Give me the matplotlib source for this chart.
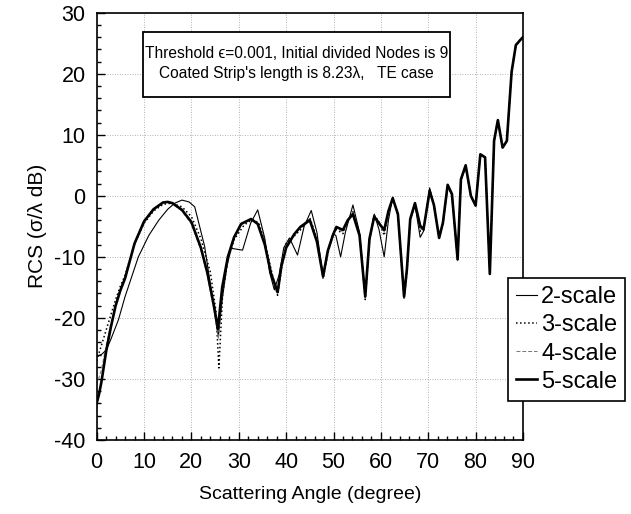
import matplotlib
matplotlib.use("Agg")
import matplotlib.pyplot as plt
from matplotlib.ticker import MultipleLocator
from matplotlib.patches import Rectangle

plt.rcParams['font.family'] = ['Liberation Sans', 'DejaVu Sans']
plt.rcParams['axes.unicode_minus'] = False

# 5-scale (thick solid)
x5 = [0, 0.5, 1, 2, 3, 4, 5, 6, 8, 10, 12, 14, 15, 16, 18, 20, 22, 23.4, 24.8, 25.6,
      26.5, 27.7, 29, 30.5, 32.6, 34, 35.5, 36.8, 38.2, 39, 40, 41.7, 43, 45, 46.5,
      47.8, 48.8, 49.9, 50.6, 52, 53, 54.1, 55.5, 56.7, 57.6, 58.6, 59.6, 60.7, 61.6,
      62.5, 63.6, 64.9, 65.5, 66.2, 67.2, 68.3, 69, 70.3, 71.2, 72.3, 73.1, 74.1, 75,
      76.2, 76.9, 77.9, 79, 80, 81, 82, 83, 83.9, 84.7, 85.7, 86.6, 87.6, 88.5, 89.4, 90]
y5 = [-34, -32.5, -30.5, -25.5, -21.5, -18, -15.5, -13.5, -7.8, -4.2, -2.2, -1.1, -1.0,
      -1.2, -2.3, -4.3, -8.5, -12.7, -18.2, -21.8,
      -15, -10, -6.8, -4.6, -3.8, -4.6, -8, -12.7, -15.8, -11.5, -8.5, -6.3, -5.1, -4.0,
      -7.5, -13.2, -9, -6.4, -5.1, -5.6, -4, -3.0, -6.5, -16.5, -7, -3.4, -4.5, -5.6,
      -2.5, -0.4, -3, -16.5, -12, -3.8, -1.2, -4.9, -5.5, 0.8, -1.5, -6.9, -4.4, 1.8,
      0.3, -10.4, 2.7, 5.0, 0, -1.6, 6.8, 6.3, -12.8, 9.0, 12.4, 7.9, 9.0, 20.3, 24.7,
      25.5, 26]

# 4-scale (thin dashed grey)
x4 = [0, 1, 2, 3, 4, 5, 6, 8, 10, 12, 14, 15, 16, 18, 20, 22, 23.4, 24.8, 25.7,
      26.5, 27.7, 29, 30.5, 32.6, 34, 35.5, 36.8, 38.2, 39, 40, 41.7, 43, 45, 46.5,
      47.8, 48.8, 49.9, 50.6, 52, 53, 54.1, 55.5, 56.7, 57.6, 58.6, 59.6, 60.7, 61.6,
      62.5, 63.6, 64.9, 65.5, 66.2, 67.2, 68.3, 69, 70.3, 71.2, 72.3, 73.1, 74.1, 75,
      76.2, 76.9, 77.9, 79, 80, 81, 82, 83, 83.9, 84.7, 85.7, 86.6, 87.6, 88.5, 89.4, 90]
y4 = [-31, -28.5, -24.5, -21, -17.8, -15.3, -13.3, -7.7, -4.1, -2.1, -1.1, -1.0,
      -1.3, -2.5, -4.6, -8.9, -13.2, -19, -23.5,
      -15.5, -10.2, -6.9, -4.7, -3.8, -4.5, -7.8, -12.5, -16, -11.8, -8.3, -6.4, -5.0,
      -3.8, -7.3, -13.4, -9.2, -6.3, -5.3, -5.9, -4.1, -2.8, -6.4, -16.8, -7.1, -3.3,
      -4.3, -6.0, -2.6, -0.3, -3.1, -16.8, -12.2, -3.9, -1.3, -5.4, -5.6, 0.9, -1.4,
      -6.9, -4.5, 1.8, 0.3, -10.5, 2.6, 5.0, 0, -1.6, 6.8, 6.3, -12.6, 9.0, 12.4, 7.9,
      9.0, 20.3, 24.7, 25.5, 26]

# 3-scale (dotted)
x3 = [0, 1, 2, 3, 4, 5, 6, 8, 10, 12, 14, 15.8, 18, 20, 22, 24, 25.2, 25.8,
      26.6, 27.7, 29, 31.1, 32.8, 34.2, 35.5, 36.8, 38.2, 39, 40, 41.7, 43, 45, 46.5,
      47.8, 48.8, 49.9, 50.6, 52, 53, 54.1, 55.5, 56.7, 57.6, 58.6, 59.6, 60.7, 61.6,
      62.5, 63.6, 64.9, 65.5, 66.2, 67.2, 68.3, 69, 70.3, 71.2, 72.3, 73.1, 74.1, 75,
      76.2, 76.9, 77.9, 79, 80, 81, 82, 83, 83.9, 84.7, 85.7, 86.6, 87.6, 88.5, 89.4, 90]
y3 = [-27, -24.5, -22, -19.5, -17, -14.8, -13, -7.9, -4.5, -2.5, -1.4, -1.2, -1.8,
      -3.4, -7, -12.5, -19, -28.2,
      -16, -10.5, -7.2, -4.8, -3.9, -4.4, -7.5, -12, -16.3, -12, -7.8, -6.6, -5.6,
      -3.6, -7, -13.6, -9.5, -6.2, -5.5, -6.2, -4.2, -2.6, -6.2, -17, -7.3, -3.2,
      -4.2, -6.5, -2.8, -0.3, -3.2, -17, -12.5, -4.0, -1.4, -5.8, -5.7, 1.0, -1.4,
      -6.9, -4.6, 1.7, 0.2, -10.6, 2.6, 4.9, 0, -1.6, 6.8, 6.3, -12.4, 9.0, 12.4, 7.9,
      9.0, 20.3, 24.7, 25.5, 26]

# 2-scale (thin solid)
x2 = [0, 1, 2, 3, 4.6, 6, 8.8, 11, 13.1, 15, 16.5, 18, 19.5, 20.7, 22.8, 24.9, 25.7,
      26.5, 27.5, 28.4, 30.8, 32.5, 34, 35.5, 36.5, 37.5, 38.5, 39.5, 40.7, 42.4, 43.8,
      45.3, 46.5, 47.8, 48.8, 49.9, 50.5, 51.5, 52.5, 54.1, 55.5, 56.7, 57.6, 58.6,
      59.6, 60.7, 61.6, 62.5, 63.6, 64.9, 65.5, 66.2, 67.2, 68.3, 69, 70.3, 71.2, 72.3,
      73.1, 74.1, 75, 76.2, 76.9, 77.9, 79, 80, 81, 82, 83, 83.9, 84.7, 85.7, 86.6,
      87.6, 88.5, 89.4, 90]
y2 = [-26.3, -26, -25.3, -23.5, -20.3, -16.5, -10, -6.5, -4, -2.2, -1.2, -0.7, -1.0,
      -1.8, -8.3, -19.2, -23, -17, -11.5, -8.6, -8.9, -4.5, -2.3, -7, -12.5, -15.4,
      -13, -8.5, -6.9, -9.7, -5, -2.4, -6, -13.2, -9, -6.2, -6.5, -10, -6, -1.5, -6,
      -16.5, -7, -3.0, -5.5, -10, -4, -0.2, -3, -16.5, -12, -4, -1.5, -6.8, -5.8, 1.3,
      -1.5, -6.9, -4.6, 1.6, 0.2, -10.4, 2.5, 4.8, 0, -1.6, 6.8, 6.3, -12.8, 9.0, 12.4,
      7.9, 9.0, 20.3, 24.7, 25.5, 26]

fig = plt.figure(figsize=(6.31, 5.14), dpi=100)
ax = fig.add_axes([0.1532, 0.144, 0.6756, 0.8313])

l2, = ax.plot(x2, y2, '-', color='black', lw=0.8, label='2-scale')
l3, = ax.plot(x3, y3, ':', color='black', lw=1.1, label='3-scale')
l4, = ax.plot(x4, y4, '--', color='#777777', lw=0.7, dashes=(4, 2), label='4-scale')
l5, = ax.plot(x5, y5, '-', color='black', lw=1.9, label='5-scale')

ax.set_xlim(0, 90)
ax.set_ylim(-40, 30)
ax.xaxis.set_major_locator(MultipleLocator(10))
ax.xaxis.set_minor_locator(MultipleLocator(2))
ax.yaxis.set_major_locator(MultipleLocator(10))
ax.yaxis.set_minor_locator(MultipleLocator(2))
ax.tick_params(which='both', direction='in', labelsize=15.5, width=1)
ax.tick_params(which='major', length=6)
ax.tick_params(which='minor', length=3.2)
ax.tick_params(axis='x', pad=9)
ax.tick_params(axis='y', pad=8)
for s in ax.spines.values():
    s.set_linewidth(1.2)
ax.grid(True, which='major', linestyle=(0, (1, 2)), color='#999999', lw=0.6)

ax.set_xlabel('Scattering Angle (degree)', fontsize=14, labelpad=9)
ax.set_ylabel('RCS (σ/λ dB)', fontsize=15, labelpad=5)

# annotation box
ax.add_patch(Rectangle((0.109, 0.803), 0.72, 0.152, transform=ax.transAxes,
                       facecolor='white', edgecolor='black', lw=1.3, zorder=5))
ax.text(0.469, 0.881,
        "Threshold ϵ=0.001, Initial divided Nodes is 9\nCoated Strip's length is 8.23λ,   TE case",
        transform=ax.transAxes, ha='center', va='center', fontsize=11.2,
        linespacing=1.4, zorder=6)

leg = ax.legend(handles=[l2, l3, l4, l5], loc='upper left',
                bbox_to_anchor=(0.805, 0.459), bbox_transform=fig.transFigure,
                borderaxespad=0, fontsize=17, handlelength=0.9, handletextpad=0.15,
                labelspacing=0.26, borderpad=0.35, fancybox=False, framealpha=1,
                edgecolor='black')
leg.get_frame().set_linewidth(1.2)

fig.savefig('out.png', dpi=100)
